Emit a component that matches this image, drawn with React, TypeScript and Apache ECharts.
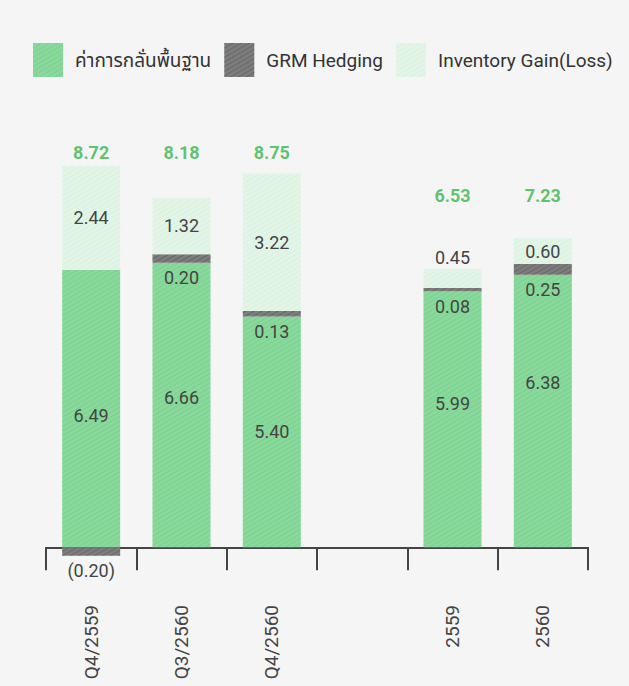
import React, { useEffect, useRef } from "react";
import * as echarts from "echarts";

const categories = ["Q4/2559", "Q3/2560", "Q4/2560", "", "2559", "2560"];
const baseGrm = [6.49, 6.66, 5.4, null, 5.99, 6.38];
const grmHedging = [-0.2, 0.2, 0.13, null, 0.08, 0.25];
const inventoryGain = [2.44, 1.32, 3.22, null, 0.45, 0.6];
const totals = [8.72, 8.18, 8.75, null, 6.53, 7.23];
const seriesNames = ["ค่าการกลั่นพื้นฐาน", "GRM Hedging", "Inventory Gain(Loss)"];

const FONT = "Roboto, 'Noto Sans', 'Noto Sans Thai', 'Tahoma', sans-serif";

const fmt = (v: number) => (v < 0 ? `(${Math.abs(v).toFixed(2)})` : v.toFixed(2));

export default function App() {
  const ref = useRef<HTMLDivElement>(null);
  useEffect(() => {
    if (!ref.current) return;
    const chart = echarts.init(ref.current, null, { renderer: "svg" });
    const decal = (c: string) => ({
      symbol: "rect",
      dashArrayX: [[1, 0]],
      dashArrayY: [1, 3],
      rotation: -Math.PI / 6,
      color: c,
      symbolSize: 1,
    });
    const labelStyle = { color: "#444", fontSize: 18, fontFamily: FONT };
    // total labels: quarterly at a common level, annual at another common level
    const totalLevel = categories.map((c, i) =>
      totals[i] == null ? null : c.startsWith("Q") ? 9.23 : 8.24
    );
    // small vertical nudges of the base-value labels, as in the reference
    const baseLabelNudge = [7, -7, 0, 0, -16, -28];
    const option = {
      animation: false,
      backgroundColor: "#f5f5f5",
      legend: {
        left: 28,
        top: 38,
        itemWidth: 30,
        itemHeight: 34,
        itemGap: 13,
        icon: "rect",
        data: seriesNames,
        textStyle: { color: "#333", fontSize: 19, fontFamily: FONT, padding: [0, 0, 0, 7] },
      },
      grid: { left: 46, right: 41, top: 120, bottom: 96, outerBoundsMode: "none", containLabel: false },
      xAxis: {
        type: "category",
        data: categories,
        axisLine: { onZero: true, lineStyle: { color: "#444", width: 2 } },
        axisTick: { show: true, length: 23, lineStyle: { color: "#444", width: 2 } },
        axisLabel: {
          rotate: 90,
          margin: 15,
          color: "#444",
          fontSize: 19,
          fontFamily: FONT,
        },
      },
      yAxis: {
        type: "value",
        min: -1,
        max: 10,
        show: false,
        splitLine: { show: false },
      },
      series: [
        {
          name: seriesNames[0],
          type: "bar",
          stack: "grm",
          barWidth: 58,
          data: baseGrm.map((v, i) =>
            v == null ? null : { value: v, label: { offset: [0, baseLabelNudge[i]] } }
          ),
          itemStyle: { color: "#88d99b", decal: decal("rgba(100,195,120,0.35)") },
          label: { show: true, position: "inside", ...labelStyle, formatter: (p: any) => fmt(p.value) },
        },
        {
          name: seriesNames[1],
          type: "bar",
          stack: "grm",
          barWidth: 58,
          data: grmHedging,
          itemStyle: { color: "#7d7d7d", decal: decal("rgba(80,80,80,0.5)") },
          label: {
            show: true,
            position: "bottom",
            distance: 6,
            ...labelStyle,
            formatter: (p: any) => fmt(p.value),
          },
        },
        {
          name: seriesNames[2],
          type: "bar",
          stack: "grm",
          barWidth: 58,
          data: inventoryGain.map((v, i) =>
            i === 4
              ? { value: v, label: { position: "top", distance: 2 } }
              : v
          ),
          itemStyle: { color: "#e3f5e7", decal: decal("rgba(208,238,215,0.5)") },
          label: { show: true, position: "inside", ...labelStyle, formatter: (p: any) => fmt(p.value) },
        },
        {
          name: "total",
          type: "scatter",
          symbolSize: 1,
          itemStyle: { color: "rgba(0,0,0,0)" },
          data: totalLevel.map((lv, i) => (lv == null ? null : [i, lv])),
          label: {
            show: true,
            position: "inside",
            color: "#35b548",
            fontWeight: "bold",
            fontSize: 18,
            fontFamily: FONT,
            formatter: (p: any) => (totals[p.dataIndex] as number).toFixed(2),
          },
          silent: true,
        },
      ],
    };
    chart.setOption(option as any);
    return () => chart.dispose();
  }, []);
  return (
    <div style={{ position: "fixed", left: 0, top: 0, width: 629, height: 686, background: "#fff" }}>
      <div ref={ref} style={{ width: 629, height: 686 }} />
    </div>
  );
}
